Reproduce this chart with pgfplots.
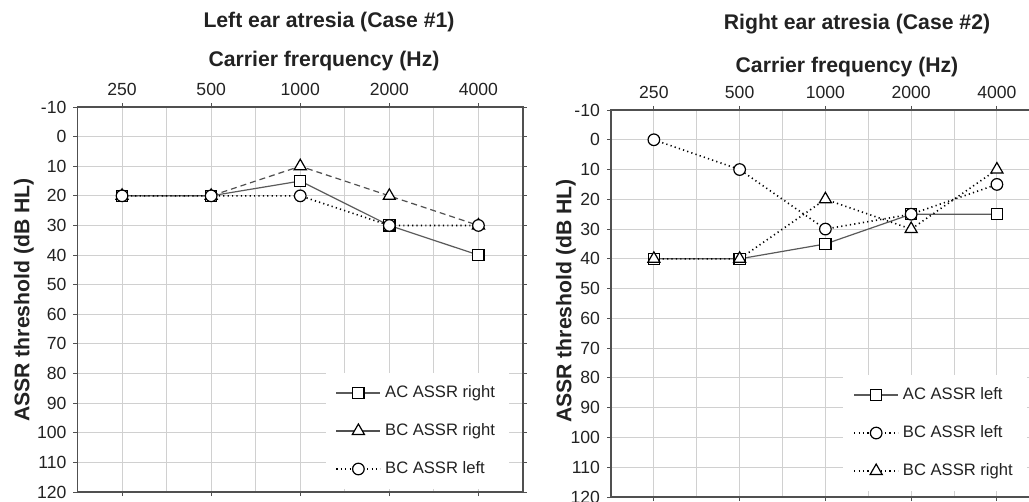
\documentclass[border=0pt]{standalone}
\usepackage{fontspec}
\setmainfont{Liberation Sans}
\usepackage{pgfplots}
\pgfplotsset{compat=1.18}

\definecolor{gridgray}{HTML}{D0D0D0}
\definecolor{axisgray}{HTML}{505050}
\definecolor{linegray}{HTML}{5A5A5A}
\definecolor{textgray}{HTML}{222222}

\pgfplotsset{
  legend image code/.code={%
    \draw[mark repeat=2,mark phase=2,#1] plot coordinates {(0pt,0pt)(11pt,0pt)(22pt,0pt)};},
  audiogram/.style={
    scale only axis,
    y dir=reverse,
    xmin=-0.5, xmax=4.5,
    ymin=-10, ymax=120,
    xtick={0,1,2,3,4},
    xticklabels={250,500,1000,2000,4000},
    minor xtick={0.5,1.5,2.5,3.5},
    ytick={-10,0,10,20,30,40,50,60,70,80,90,100,110,120},
    xticklabel pos=top,
    grid=both,
    grid style={gridgray, line width=0.5pt},
    minor grid style={gridgray, line width=0.5pt},
    axis line style={axisgray, line width=0.8pt},
    tick align=outside,
    major tick length=2pt,
    minor tick length=0pt,
    tick style={axisgray, line width=0.5pt},
    ticklabel style={font=\fontsize{8.8}{10}\selectfont, text=textgray},
    /pgf/number format/assume math mode=true,
    legend cell align=left,
    legend style={draw=none, fill=white, anchor=north west,
      font=\fontsize{8.3}{10}\selectfont, text=textgray,
      row sep=7.5pt, inner xsep=5pt, inner ysep=4pt},
  },
  ac/.style={linegray, line width=0.6pt, mark=square*, mark size=2.8pt,
    mark options={solid, draw=black, fill=white, line width=0.6pt}},
  bcdash/.style={axisgray, line width=0.6pt, dash pattern=on 3pt off 2pt,
    mark=triangle*, mark size=3.5pt,
    mark options={solid, draw=black, fill=white, line width=0.6pt}},
  bcdottri/.style={black, line width=0.8pt, dash pattern=on 0.6pt off 1.6pt,
    mark=triangle*, mark size=3.5pt,
    mark options={solid, draw=black, fill=white, line width=0.6pt}},
  bcdotcirc/.style={black, line width=0.8pt, dash pattern=on 0.6pt off 1.6pt,
    mark=*, mark size=2.9pt,
    mark options={solid, draw=black, fill=white, line width=0.6pt}},
}

\begin{document}
\begin{tikzpicture}
\useasboundingbox (0,0) rectangle (514.5pt,-251pt);
\clip (0,0) rectangle (514.5pt,-251pt);

% Case #1, left ear
\begin{axis}[audiogram,
  at={(38.75pt,-53.5pt)}, anchor=north west,
  width=222.75pt, height=192.5pt,
  legend style={at={(axis description cs:0.556,0.309)}},
  ]
  \addplot[ac] coordinates {(0,20) (1,20) (2,15) (3,30) (4,40)};
  \addlegendentry{AC ASSR right}
  \addplot[bcdash, legend image post style={solid}] coordinates {(0,20) (1,20) (2,10) (3,20) (4,30)};
  \addlegendentry{BC ASSR right}
  \addplot[bcdotcirc] coordinates {(0,20) (1,20) (2,20) (3,30) (4,30)};
  \addlegendentry{BC ASSR left}
\end{axis}

% Case #2, right ear
\begin{axis}[audiogram,
  at={(305.5pt,-55pt)}, anchor=north west,
  width=214.4pt, height=193.5pt,
  legend style={at={(axis description cs:0.541,0.315)}},
  ]
  \addplot[ac] coordinates {(0,40) (1,40) (2,35) (3,25) (4,25)};
  \addlegendentry{AC ASSR left}
  \addplot[bcdotcirc] coordinates {(0,0) (1,10) (2,30) (3,25) (4,15)};
  \addlegendentry{BC ASSR left}
  \addplot[bcdottri] coordinates {(0,40) (1,40) (2,20) (3,30) (4,10)};
  \addlegendentry{BC ASSR right}
\end{axis}

\begin{scope}[every node/.style={text=textgray, font=\bfseries\fontsize{10.6}{12}\selectfont}]
  \node at (164.5pt,-11.25pt) {Left ear atresia (Case \#1)};
  \node at (162pt,-30.5pt) {Carrier frerquency (Hz)};
  \node[rotate=90] at (12pt,-150pt) {ASSR threshold (dB HL)};
  \node at (428.5pt,-12pt) {Right ear atresia (Case \#2)};
  \node at (423.5pt,-33.5pt) {Carrier frequency (Hz)};
  \node[rotate=90] at (283pt,-150.5pt) {ASSR threshold (dB HL)};
\end{scope}
\end{tikzpicture}
\end{document}
